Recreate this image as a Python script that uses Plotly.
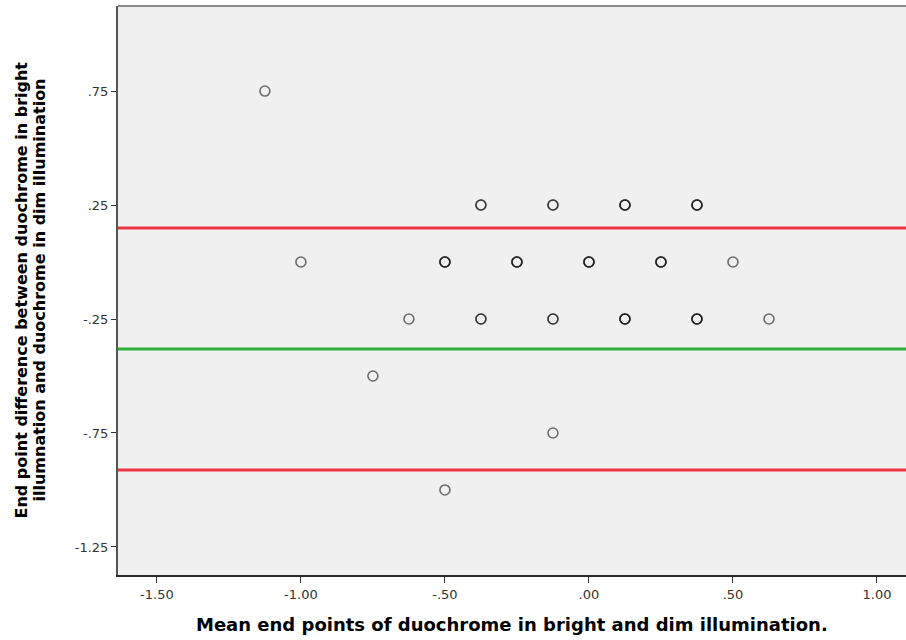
import plotly.graph_objects as go

# Bland-Altman data: mean (x), difference (y), number of coincident cases
mean_vals = [-1.125, -0.375, -0.125, 0.125, 0.375,
             -1.0, -0.5, -0.25, 0.0, 0.25, 0.5,
             -0.625, -0.375, -0.125, 0.125, 0.375, 0.625,
             -0.75, -0.125, -0.5]
diff_vals = [0.75, 0.25, 0.25, 0.25, 0.25,
             0.0, 0.0, 0.0, 0.0, 0.0, 0.0,
             -0.25, -0.25, -0.25, -0.25, -0.25, -0.25,
             -0.5, -0.75, -1.0]
counts = [1, 2, 2, 3, 3,
          1, 3, 3, 3, 3, 1,
          1, 2, 2, 3, 3, 1,
          1, 1, 1]

mean_diff = -0.382
upper_loa = 0.149
lower_loa = -0.912

x_ticks = [-1.5, -1.0, -0.5, 0.0, 0.5, 1.0]
x_labels = ["-1.50", "-1.00", "-.50", ".00", ".50", "1.00"]
y_ticks = [0.75, 0.25, -0.25, -0.75, -1.25]
y_labels = [".75", ".25", "-.25", "-.75", "-1.25"]

x_title = "Mean end points of duochrome in bright and dim illumination."
y_title_lines = ["End point difference between duochrome in bright",
                 "illumnation and duochrome in dim illumination"]

# expand coincident cases so overlapping markers darken
xs, ys = [], []
for x, y, c in zip(mean_vals, diff_vals, counts):
    for _ in range(c):
        xs.append(x)
        ys.append(y)

fig = go.Figure()
fig.add_trace(go.Scatter(
    x=xs, y=ys, mode="markers",
    marker=dict(symbol="circle-open", size=10, color="rgba(20,20,20,0.6)",
                line=dict(width=1.6, color="rgba(20,20,20,0.6)")),
    hoverinfo="x+y", showlegend=False))

for val, col in [(upper_loa, "#ee3542"), (mean_diff, "#2fb03c"), (lower_loa, "#ee3542")]:
    fig.add_shape(type="line", xref="paper", x0=0, x1=1, yref="y", y0=val, y1=val,
                  line=dict(color=col, width=3), layer="below")

# top border
fig.add_shape(type="line", xref="paper", x0=0, x1=1, yref="paper", y0=1, y1=1,
              line=dict(color="#8a8a8a", width=2))

annotations = [
    dict(text="<b>" + x_title + "</b>", xref="paper", yref="paper",
         x=0.5, y=0, yshift=-49, xanchor="center", yanchor="middle",
         showarrow=False, font=dict(family="DejaVu Sans", size=18, color="black")),
]
for i, line in enumerate(y_title_lines):
    annotations.append(
        dict(text="<b>" + line + "</b>", xref="paper", yref="paper",
             x=0, xshift=-97 + 18 * i, y=0.5, xanchor="center", yanchor="middle",
             textangle=-90, showarrow=False,
             font=dict(family="DejaVu Sans", size=16, color="black")))

fig.update_layout(
    width=906, height=640,
    margin=dict(l=118, r=0, t=6, b=65),
    paper_bgcolor="white", plot_bgcolor="#f0f0f0",
    font=dict(family="DejaVu Sans, sans-serif", color="#333"),
    xaxis=dict(range=[-1.635, 1.1007], tickvals=x_ticks, ticktext=x_labels,
               showgrid=False, zeroline=False, showline=True, linecolor="#2b2b2b",
               linewidth=2, ticks="outside", ticklen=6, tickcolor="#333",
               tickfont=dict(size=13, color="#333")),
    yaxis=dict(range=[-1.373, 1.123], tickvals=y_ticks, ticktext=y_labels,
               showgrid=False, zeroline=False, showline=True, linecolor="#555",
               linewidth=2, ticks="outside", ticklen=5, tickcolor="#333",
               tickfont=dict(size=13, color="#333")),
    annotations=annotations,
)

fig.write_html("out.html", config={"displayModeBar": False},
               post_script="document.body.style.margin='0';")
